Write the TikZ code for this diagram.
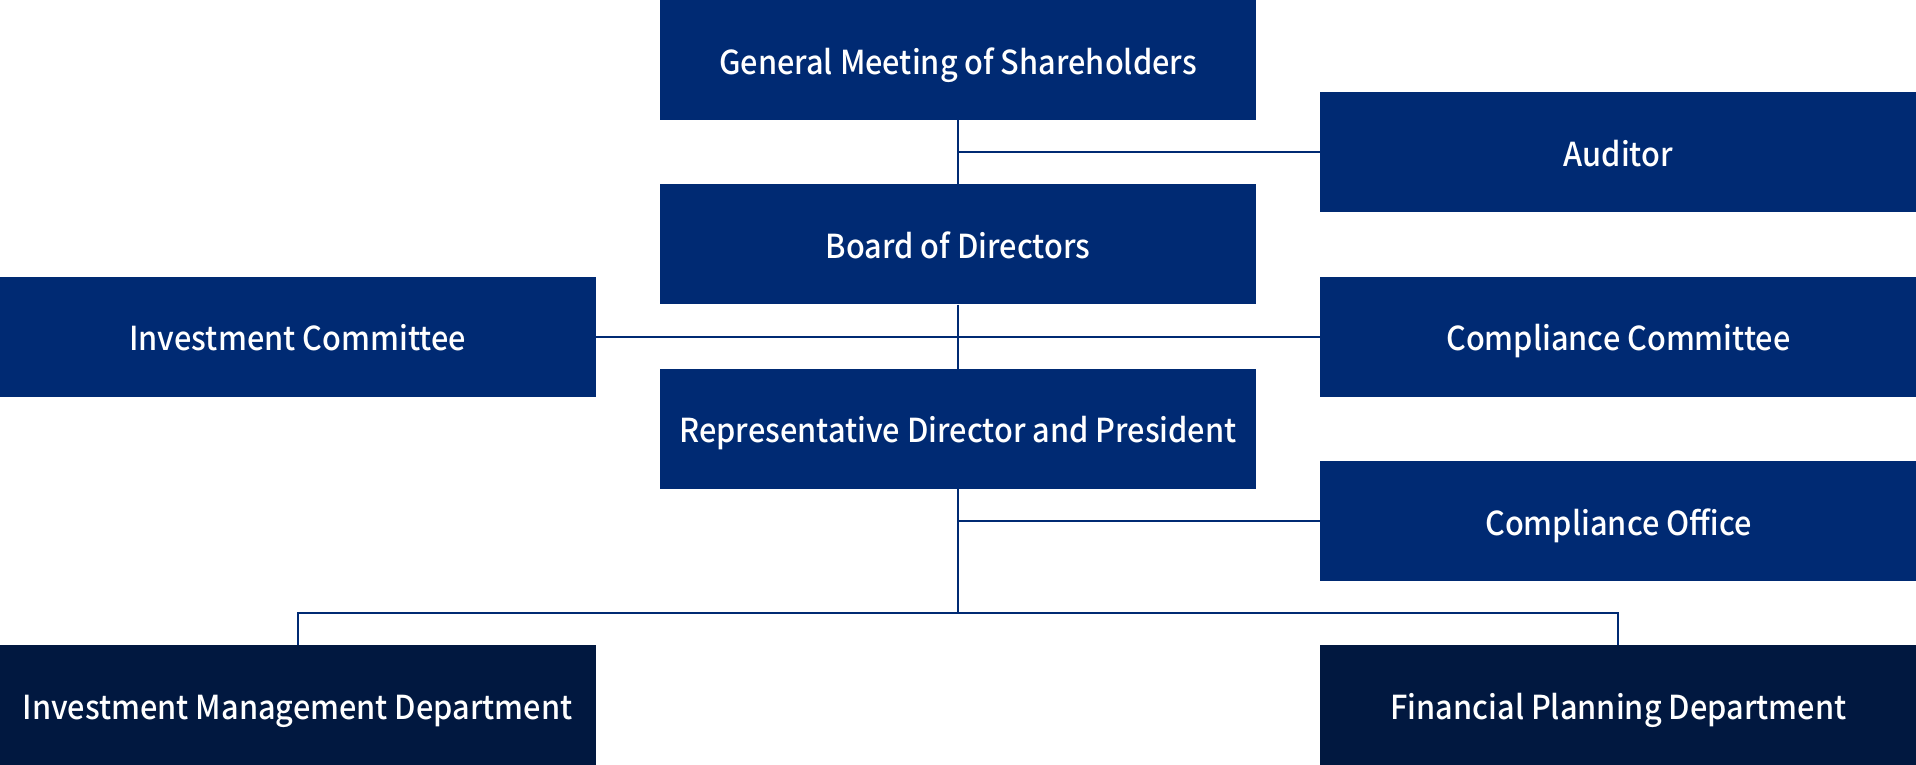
\documentclass[tikz,border=0pt]{standalone}
\usepackage{fontspec}
\setmainfont{Noto Sans CJK JP}[UprightFont={* Medium},FakeStretch=0.93]
\usetikzlibrary{calc,positioning}
\definecolor{orgblue}{RGB}{0,42,115}
\definecolor{orgdark}{RGB}{1,24,64}
\tikzstyle{box}=[fill=orgblue,text=white,minimum width=596pt,minimum height=120pt,inner sep=0pt,text centered,text height=28pt,text depth=0pt,font=\fontsize{33}{38}\selectfont]
\tikzstyle{dept}=[box,fill=orgdark]
\tikzstyle{link}=[draw=orgblue,line width=2pt]

\begin{document}
\begin{tikzpicture}[
      node distance=64pt
    ]
      \useasboundingbox (0,0) rectangle (1916pt,-764pt);
      \node [box] (gm) at (958pt,-60pt) {General Meeting of Shareholders};
      \node [box] (board) [below=of gm] {Board of Directors};
      \node [box] (rep) [below=of board] {Representative Director and President};

      \coordinate (j1) at ($(gm.south)!0.5!(board.north)$);
      \coordinate (j2) at ($(board.south)!0.5!(rep.north)$);
      \coordinate (j3) at ([yshift=-32pt]rep.south);
      \coordinate (e1) at (gm.east |- j1);
      \coordinate (e2) at (board.east |- j2);
      \coordinate (w2) at (board.west |- j2);
      \coordinate (e3) at (rep.east |- j3);

      \node [box] (aud) [right=of e1] {Auditor};
      \node [box] (comcom) [right=of e2] {Compliance Committee};
      \node [box] (invcom) [left=of w2] {Investment Committee};
      \node [box] (office) [right=of e3] {Compliance Office};

      \node [dept] (fpd) [below=of office] {Financial Planning Department};
      \node [dept] (imd) at (invcom |- fpd) {Investment Management Department};
      \coordinate (j4) at ([yshift=32pt]fpd.north -| rep.south);

      \draw[link] (gm) -- (board);
      \draw[link] (j1) -- (aud);
      \draw[link] (board) -- (rep);
      \draw[link] (invcom) -- (comcom);
      \draw[link] (rep) -- (j4);
      \draw[link] (j3) -- (office);
      \draw[link] (imd.north) |- (j4) -| (fpd.north);
    \end{tikzpicture}
\end{document}
